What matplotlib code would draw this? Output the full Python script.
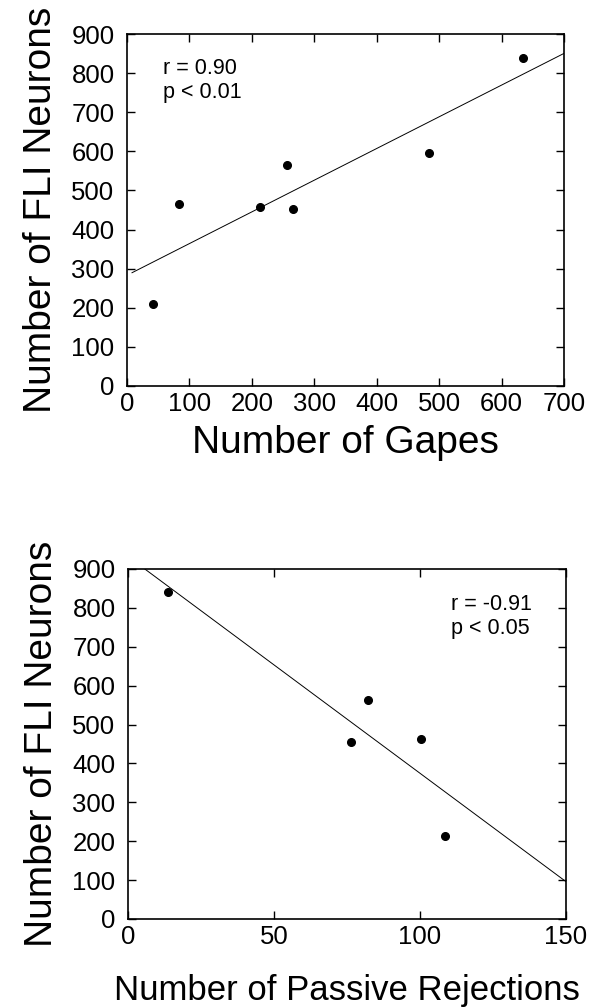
import numpy as np
import matplotlib.pyplot as plt

plt.rcParams['font.family'] = ['Liberation Sans', 'DejaVu Sans']

# ---- data ----
gapes = [41, 83, 213, 256, 266, 484, 635]
neurons_gapes = [210, 465, 458, 564, 453, 596, 839]
gapes_fit_range = [8, 700]

rejections = [13.6, 76.3, 82.1, 100.5, 108.6]
neurons_rej = [841, 455, 564, 463, 213]
rej_fit_range = [0, 150]

y_ticks = [0, 100, 200, 300, 400, 500, 600, 700, 800, 900]
gapes_ticks = [0, 100, 200, 300, 400, 500, 600, 700]
rej_ticks = [0, 50, 100, 150]


def estilo(ax):
    ax.tick_params(direction='in', length=6, width=1, labelsize=18.5,
                   top=True, right=True, pad=4)
    ax.tick_params(axis='y', pad=9)
    for s in ax.spines.values():
        s.set_linewidth(1.2)
        s.set_color('black')


def recta(ax, x, y, rango):
    m, b = np.polyfit(x, y, 1)
    xr = np.array(rango, dtype=float)
    ax.plot(xr, m * xr + b, color='black', lw=0.7)


fig = plt.figure(figsize=(5.91, 10.07), dpi=100)

# ============================================================
# 1) FLI vs Gapes
# ============================================================
ax1 = fig.add_axes([0.2149, 0.6167, 0.7394, 0.3495])
recta(ax1, gapes, neurons_gapes, gapes_fit_range)
ax1.plot(gapes, neurons_gapes, 'o', color='black', ms=5.5)
ax1.set_xlim(0, 700)
ax1.set_ylim(0, 900)
ax1.set_xticks(gapes_ticks)
ax1.set_yticks(y_ticks)
estilo(ax1)
ax1.set_xlabel("Number of Gapes", fontsize=28, labelpad=7)
ax1.set_ylabel("Number of FLI Neurons", fontsize=28, labelpad=9)
ax1.text(0.082, 0.868, "r = 0.90\np < 0.01", transform=ax1.transAxes,
         fontsize=15.5, va='center', ha='left', linespacing=1.2)

# ============================================================
# 2) FLI vs Passive Rejections
# ============================================================
ax2 = fig.add_axes([0.2166, 0.0874, 0.7411, 0.3476])
recta(ax2, rejections, neurons_rej, rej_fit_range)
ax2.plot(rejections, neurons_rej, 'o', color='black', ms=5.5)
ax2.set_xlim(0, 150)
ax2.set_ylim(0, 900)
ax2.set_xticks(rej_ticks)
ax2.set_yticks(y_ticks)
estilo(ax2)
ax2.set_xlabel("Number of Passive Rejections", fontsize=25, labelpad=18)
ax2.set_ylabel("Number of FLI Neurons", fontsize=28, labelpad=9)
ax2.text(0.737, 0.864, "r = -0.91\np < 0.05", transform=ax2.transAxes,
         fontsize=15.5, va='center', ha='left', linespacing=1.2)

plt.savefig("out.png", dpi=100)
